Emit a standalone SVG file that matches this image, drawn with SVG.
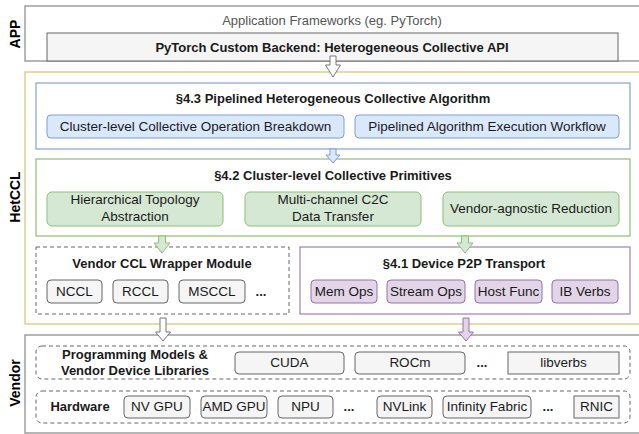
<svg xmlns="http://www.w3.org/2000/svg" width="639" height="434" viewBox="0 0 639 434">
<style>
text{font-family:"Liberation Sans",Arial,sans-serif;font-size:13.5px;fill:#1a1a1a;text-anchor:middle}
.b{font-weight:bold;font-size:13px}
.side{font-weight:bold;font-size:14px;fill:#000}
.layer{fill:#fff;stroke:#9e9e9e;stroke-width:1.5}
.gray{fill:#f5f5f5;stroke:#666;stroke-width:1}
.blue{fill:#fff;stroke:#8eaad4;stroke-width:1.3}
.bsub{fill:#dae8fc;stroke:#7f9fcb;stroke-width:1}
.green{fill:#fff;stroke:#97c27e;stroke-width:1.3}
.gsub{fill:#d5e8d4;stroke:#8fbd78;stroke-width:1}
.purple{fill:#fff;stroke:#a88bb6;stroke-width:1.3}
.psub{fill:#e1d5e7;stroke:#9673a6;stroke-width:1}
.dash{fill:none;stroke:#666;stroke-width:1;stroke-dasharray:4 3}
.yellow{fill:#fff;stroke:#e3cd8a;stroke-width:1.5}
</style>
<g id="app-layer">
<rect class="layer" x="25" y="6" width="630" height="55"/>
<text x="332" y="25" style="fill:#555;font-size:13px">Application Frameworks (eg. PyTorch)</text>
<text class="side" transform="translate(20,34) rotate(-90)">APP</text>
</g>
<g id="pytorch-backend">
<rect class="gray" x="47" y="33" width="571" height="28"/>
<text class="b" x="332" y="52">PyTorch Custom Backend: Heterogeneous Collective API</text>
</g>
<g id="hetccl-layer">
<rect class="yellow" x="25" y="72" width="630" height="252"/>
<text class="side" transform="translate(20,197) rotate(-90)">HetCCL</text>
</g>
<g id="vendor-layer">
<rect class="layer" x="25" y="335" width="630" height="98"/>
<text class="side" transform="translate(20,383) rotate(-90)">Vendor</text>
</g>
<g id="algo">
<rect class="blue" x="36" y="83" width="594" height="66"/>
<text class="b" x="333" y="103">§4.3 Pipelined Heterogeneous Collective Algorithm</text>
<rect class="bsub" x="47" y="115" width="297" height="23" rx="4"/>
<text x="195.5" y="131">Cluster-level Collective Operation Breakdown</text>
<rect class="bsub" x="355" y="115" width="264" height="23" rx="4"/>
<text x="487" y="131">Pipelined Algorithm Execution Workflow</text>
</g>
<g id="primitives">
<rect class="green" x="36" y="159" width="594" height="77"/>
<text class="b" x="333" y="180">§4.2 Cluster-level Collective Primitives</text>
<rect class="gsub" x="47" y="192" width="176" height="34" rx="5"/>
<text x="135" y="204">Hierarchical Topology</text>
<text x="135" y="221">Abstraction</text>
<rect class="gsub" x="245" y="192" width="176" height="34" rx="5"/>
<text x="333" y="204">Multi-channel C2C</text>
<text x="333" y="221">Data Transfer</text>
<rect class="gsub" x="443" y="192" width="176" height="34" rx="5"/>
<text x="531" y="213">Vendor-agnostic Reduction</text>
</g>
<g id="ccl-wrapper">
<rect class="dash" x="36" y="247" width="253" height="67"/>
<text class="b" x="162" y="268">Vendor CCL Wrapper Module</text>
<rect class="gray" x="47" y="280" width="55" height="23" rx="4"/>
<text x="74.5" y="296">NCCL</text>
<rect class="gray" x="113" y="280" width="55" height="23" rx="4"/>
<text x="140.5" y="296">RCCL</text>
<rect class="gray" x="179" y="280" width="66" height="23" rx="4"/>
<text x="212" y="296">MSCCL</text>
<text class="b" x="261" y="296">...</text>
</g>
<g id="p2p">
<rect class="purple" x="300" y="247" width="330" height="67"/>
<text class="b" x="464" y="268">§4.1 Device P2P Transport</text>
<rect class="psub" x="311" y="280" width="66" height="23" rx="4"/>
<text x="344" y="296">Mem Ops</text>
<rect class="psub" x="387" y="280" width="78" height="23" rx="4"/>
<text x="426" y="296">Stream Ops</text>
<rect class="psub" x="475" y="280" width="67" height="23" rx="4"/>
<text x="508.5" y="296">Host Func</text>
<rect class="psub" x="552" y="280" width="66" height="23" rx="4"/>
<text x="585" y="296">IB Verbs</text>
</g>
<g id="prog-models">
<rect class="dash" x="36" y="346" width="594" height="33" rx="6"/>
<text class="b" x="135" y="359">Programming Models &amp;</text>
<text class="b" x="135" y="375">Vendor Device Libraries</text>
<rect class="gray" x="235" y="352" width="109" height="22" rx="4"/>
<text x="289.5" y="367">CUDA</text>
<rect class="gray" x="355" y="352" width="110" height="22" rx="4"/>
<text x="410" y="367">ROCm</text>
<text class="b" x="482" y="367">...</text>
<rect class="gray" x="508" y="352" width="111" height="22"/>
<text x="563.5" y="367">libverbs</text>
</g>
<g id="hardware">
<rect class="dash" x="36" y="391" width="594" height="32" rx="6"/>
<text class="b" x="80" y="411">Hardware</text>
<rect class="gray" x="124" y="396" width="66" height="22" rx="4"/>
<text x="157" y="411">NV GPU</text>
<rect class="gray" x="201" y="396" width="66" height="22" rx="4"/>
<text x="234" y="411">AMD GPU</text>
<rect class="gray" x="278" y="396" width="55" height="22" rx="4"/>
<text x="305.5" y="411">NPU</text>
<text class="b" x="349" y="411">...</text>
<rect class="gray" x="377" y="396" width="55" height="22" rx="4"/>
<text x="404.5" y="411">NVLink</text>
<rect class="gray" x="443" y="396" width="88" height="22" rx="4"/>
<text x="487" y="411">Infinity Fabric</text>
<text class="b" x="548" y="411">...</text>
<rect class="gray" x="574" y="396" width="45" height="22"/>
<text x="596.5" y="411">RNIC</text>
</g>
<g id="connectors">
<path d="M330,56 L336,56 L336,65 L340.5,65 L333,77 L325.5,65 L330,65 Z" fill="#fff" stroke="#777" stroke-width="1"/>
<path d="M330,149 L336,149 L336,155 L340,155 L333,163 L326,155 L330,155 Z" fill="#dae8fc" stroke="#7f9fcb" stroke-width="1"/>
<path d="M158.5,236 L165.5,236 L165.5,243 L170,243 L162,253 L154,243 L158.5,243 Z" fill="#d5e8d4" stroke="#8fbd78" stroke-width="1"/>
<path d="M461.5,236 L468.5,236 L468.5,243 L473,243 L465,253 L457,243 L461.5,243 Z" fill="#d5e8d4" stroke="#8fbd78" stroke-width="1"/>
<path d="M160,318 L166,318 L166,332 L170.5,332 L163,341 L155.5,332 L160,332 Z" fill="#fff" stroke="#777" stroke-width="1"/>
<path d="M463,318 L469,318 L469,332 L473.5,332 L466,341 L458.5,332 L463,332 Z" fill="#e1d5e7" stroke="#9673a6" stroke-width="1"/>
</g>
</svg>
